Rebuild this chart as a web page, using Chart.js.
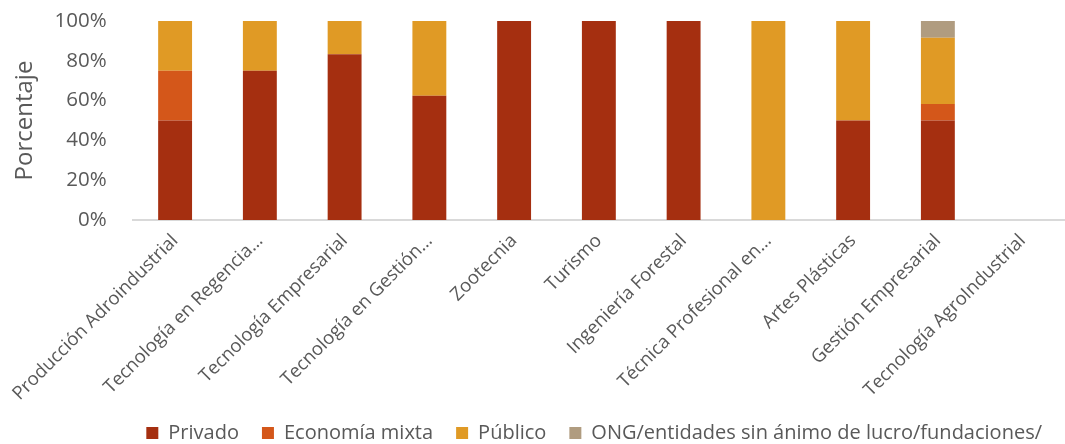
<!DOCTYPE html>
<html>
<head>
<meta charset="utf-8">
<script src="https://cdn.jsdelivr.net/npm/chart.js@4"></script>
<style>
  html, body { margin: 0; padding: 0; background: #fff; }
  #wrap { width: 1065px; height: 444px; }
</style>
</head>
<body>
<div id="wrap"><canvas id="myChart"></canvas></div>
<script>
const categories = [
  'Producción Adroindustrial',
  'Tecnología en Regencia…',
  'Tecnología Empresarial',
  'Tecnología en Gestión…',
  'Zootecnia',
  'Turismo',
  'Ingeniería Forestal',
  'Técnica Profesional en…',
  'Artes Plásticas',
  'Gestión Empresarial',
  'Tecnología AgroIndustrial'
];
const privado = [50, 75, 83.3, 62.5, 100, 100, 100, 0, 50, 50, 0];
const economiaMixta = [25, 0, 0, 0, 0, 0, 0, 0, 0, 8.3, 0];
const publico = [25, 25, 16.7, 37.5, 0, 0, 0, 100, 50, 33.3, 0];
const ong = [0, 0, 0, 0, 0, 0, 0, 0, 0, 8.4, 0];
const yTicks = [0, 20, 40, 60, 80, 100];

const grey = '#595959';
const fontFamily = "'Open Sans', sans-serif";

const data = {
  labels: categories,
  datasets: [
    { label: 'Privado', data: privado, backgroundColor: '#A52F10' },
    { label: 'Economía mixta', data: economiaMixta, backgroundColor: '#D4571A' },
    { label: 'Público', data: publico, backgroundColor: '#E09A25' },
    { label: 'ONG/entidades sin ánimo de lucro/fundaciones/', data: ong, backgroundColor: '#B09C80' }
  ]
};

const config = {
  type: 'bar',
  data: data,
  options: {
    responsive: true,
    maintainAspectRatio: false,
    animation: false,
    layout: { padding: { top: 21, right: 0, left: 0, bottom: -9 } },
    datasets: { bar: { categoryPercentage: 1, barPercentage: 0.4 } },
    plugins: {
      tooltip: { enabled: false },
      legend: {
        position: 'bottom',
        align: 'end',
        labels: {
          color: grey,
          font: { family: fontFamily, size: 20 },
          boxWidth: 12,
          boxHeight: 12,
          padding: 23
        }
      }
    },
    scales: {
      x: {
        stacked: true,
        grid: { display: false, drawTicks: false },
        border: { color: '#d9d9d9', width: 2 },
        ticks: {
          color: grey,
          font: { family: fontFamily, size: 18.5 },
          minRotation: 45,
          maxRotation: 45,
          autoSkip: false,
          padding: 10
        },
        afterFit: function (axis) { axis.height = 180; }
      },
      y: {
        stacked: true,
        min: 0,
        max: 100,
        afterBuildTicks: function (axis) { axis.ticks = yTicks.map(v => ({ value: v })); },
        grid: { display: false, drawTicks: false },
        border: { display: false },
        ticks: {
          color: grey,
          font: { family: fontFamily, size: 20.5 },
          padding: 26,
          callback: v => v + '%'
        },
        title: {
          display: true,
          text: 'Porcentaje',
          color: grey,
          font: { family: fontFamily, size: 24 },
          padding: { top: 8, bottom: 0 }
        },
        afterFit: function (axis) {
          axis.width = 130;
          axis.paddingTop = 0;
          axis.paddingBottom = 0;
        }
      }
    }
  }
};

const myChart = new Chart(document.getElementById('myChart'), config);
</script>
</body>
</html>
